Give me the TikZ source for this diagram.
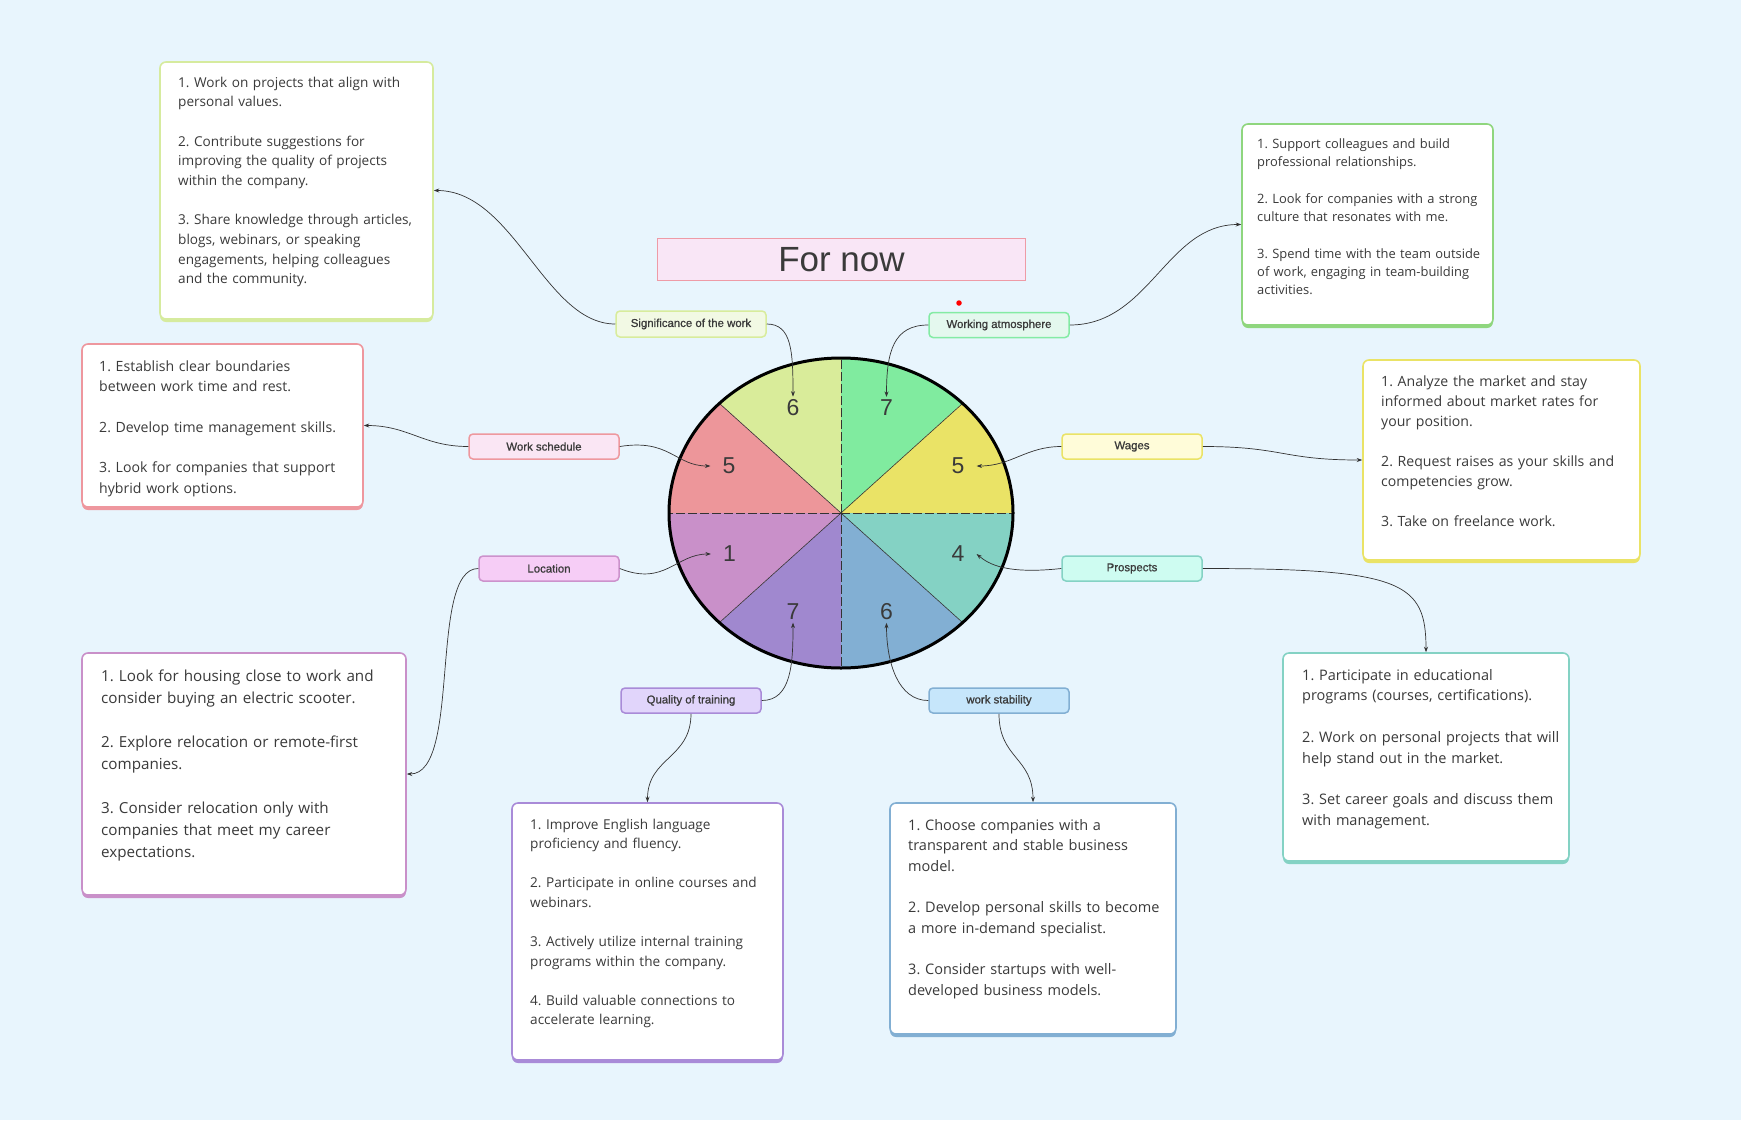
\documentclass[tikz,border=0pt]{standalone}
\usepackage{fontspec}
\usetikzlibrary{arrows.meta}
\newfontfamily\osans{Open Sans}
\newfontfamily\lsans{Liberation Sans}
\newfontfamily\lsansm[FakeBold=0.9]{Liberation Sans}
\definecolor{bg}{HTML}{E8F5FD}
\definecolor{txtc}{HTML}{3A3A3A}
\definecolor{linec}{HTML}{333333}
\definecolor{sla}{HTML}{D9EC9A}
\definecolor{slb}{HTML}{80EB9F}
\definecolor{slc}{HTML}{EAE366}
\definecolor{sld}{HTML}{84D2C4}
\definecolor{sle}{HTML}{82AFD3}
\definecolor{slf}{HTML}{A088CF}
\definecolor{slg}{HTML}{C990C9}
\definecolor{slh}{HTML}{ED969A}
\definecolor{cA}{HTML}{D6EB9E}
\definecolor{cB}{HTML}{8FD67E}
\definecolor{cC}{HTML}{EE979E}
\definecolor{cD}{HTML}{EAE366}
\definecolor{cE}{HTML}{C990C9}
\definecolor{cF}{HTML}{84D2C4}
\definecolor{cG}{HTML}{A98BD8}
\definecolor{cH}{HTML}{82AFD3}
\definecolor{lfA}{HTML}{F2F9E4}\definecolor{lbA}{HTML}{D8EC9C}
\definecolor{lfB}{HTML}{E4F8EE}\definecolor{lbB}{HTML}{84EBA4}
\definecolor{lfC}{HTML}{FAE6F4}\definecolor{lbC}{HTML}{EE989E}
\definecolor{lfD}{HTML}{F6CDF6}\definecolor{lbD}{HTML}{CC92CC}
\definecolor{lfE}{HTML}{FFFCD9}\definecolor{lbE}{HTML}{EAE366}
\definecolor{lfF}{HTML}{CEFCF1}\definecolor{lbF}{HTML}{84D2C4}
\definecolor{lfG}{HTML}{E1D5FB}\definecolor{lbG}{HTML}{A98BD8}
\definecolor{lfH}{HTML}{C6E6FB}\definecolor{lbH}{HTML}{82AFD3}
\definecolor{titleF}{HTML}{F9E6F6}
\definecolor{titleB}{HTML}{EE9BA6}
\newcommand\pgap{\\[\baselineskip]}
\frenchspacing
\begin{document}
\begin{tikzpicture}[x=1pt,y=-1pt,
  conn/.style={draw=linec, line width=0.7pt, -{Stealth[length=5.5pt,width=4pt]}},
  lab/.style={draw=#1, rounded corners=4pt, line width=1.5pt, minimum width=140pt, minimum height=25pt, inner sep=0pt, font=\lsansm\fontsize{11.4}{13}\selectfont, text=txtc},
  card/.style={draw=#1, fill=white, line width=1.6pt, rounded corners=6pt, inner sep=0pt, preaction={fill=#1, transform canvas={yshift=-3pt}}},
  body/.style={anchor=base west, inner sep=0pt, align=left, text=txtc},
  num/.style={font=\lsans\fontsize{23}{23}\selectfont, text=txtc, inner xsep=12pt, inner ysep=3pt},
  radial/.style={draw=linec, line width=0.6pt},
  diam/.style={draw=linec, line width=0.8pt, dash pattern=on 9pt off 3pt},
]
\fill[bg] (0,0) rectangle (1741,1120);
\useasboundingbox (0,0) rectangle (1741,1120);

% title
\node[draw=titleB, fill=titleF, line width=1.8pt, minimum width=368pt, minimum height=42pt, inner sep=0pt, font=\lsans\fontsize{35}{40}\selectfont, text=txtc] (title) at (841.5,259.5) {For now};
\node[circle, fill=red, inner sep=0pt, minimum size=5.5pt] (dot) at (959,303) {};

% pie
\coordinate (pc) at (841,513);
\begin{scope}
\clip (841,513) ellipse [x radius=172, y radius=155];
\foreach \a/\b/\c in {-135/-90/sla, -90/-45/slb, -45/0/slc, 0/45/sld, 45/90/sle, 90/135/slf, 135/180/slg, 180/225/slh}
  \fill[\c] (841,513) -- +(\a:260 and 235) -- +(\b:260 and 235) -- cycle;
\end{scope}
\foreach \a in {45,135,225,315}
  \draw[radial] (pc) -- +(\a:172 and 155);
\foreach \a in {0,90,180,270}
  \draw[diam] (pc) -- +(\a:172 and 155);
\draw[line width=3pt] (pc) ellipse [x radius=172, y radius=155];

\node[num] (n6t) at (793,408) {6};
\node[num] (n7t) at (886.5,408) {7};
\node[num] (n5r) at (958,466) {5};
\node[num] (n4) at (958,554) {4};
\node[num] (n6b) at (886.5,611.5) {6};
\node[num] (n7b) at (793,611.5) {7};
\node[num] (n1) at (729.5,554) {1};
\node[num] (n5l) at (729,466) {5};

% labels
\node[lab=lbA, fill=lfA, minimum width=150pt, minimum height=26pt] (sig) at (691,324) {Significance of the work};
\node[lab=lbB, fill=lfB] (wat) at (999,325) {Working atmosphere};
\node[lab=lbC, fill=lfC, minimum width=150pt] (ws) at (544,446.5) {Work schedule};
\node[lab=lbD, fill=lfD] (loc) at (549,568.5) {Location};
\node[lab=lbE, fill=lfE] (wag) at (1132,446.5) {Wages};
\node[lab=lbF, fill=lfF] (pro) at (1132,568.5) {Prospects};
\node[lab=lbG, fill=lfG] (qt) at (691,700.5) {Quality of training};
\node[lab=lbH, fill=lfH] (wst) at (999,700.5) {work stability};

% cards
\node[card=cA, minimum width=273pt, minimum height=257pt] (box1) at (296.5,190.5) {};
\node[card=cB, minimum width=251pt, minimum height=201pt] (box2) at (1367.5,224.5) {};
\node[card=cC, minimum width=281pt, minimum height=163pt] (box3) at (222.5,425.5) {};
\node[card=cD, minimum width=277pt, minimum height=200pt] (box4) at (1501.5,460) {};
\node[card=cE, minimum width=324pt, minimum height=242pt] (box5) at (244,774) {};
\node[card=cF, minimum width=286pt, minimum height=208pt] (box6) at (1426,757) {};
\node[card=cG, minimum width=271pt, minimum height=257pt] (box7) at (647.5,931.5) {};
\node[card=cH, minimum width=286pt, minimum height=231pt] (box8) at (1033,918.5) {};

\node[body, font=\osans\fontsize{13.6}{19.65}\selectfont, text width=252pt] (t1) at (178,87.3) {1. Work on projects that align with\\personal values.\pgap 2. Contribute suggestions for\\improving the quality of projects\\within the company.\pgap 3. Share knowledge through articles,\\blogs, webinars, or speaking\\engagements, helping colleagues\\and the community.};
\node[body, font=\osans\fontsize{12.9}{18.3}\selectfont, text width=232pt] (t2) at (1257,148.3) {1. Support colleagues and build\\professional relationships.\pgap 2. Look for companies with a strong\\culture that resonates with me.\pgap 3. Spend time with the team outside\\of work, engaging in team-building\\activities.};
\node[body, font=\osans\fontsize{14.1}{20.35}\selectfont, text width=262pt] (t3) at (99,371) {1. Establish clear boundaries\\between work time and rest.\pgap 2. Develop time management skills.\pgap 3. Look for companies that support\\hybrid work options.};
\node[body, font=\osans\fontsize{14.1}{20}\selectfont, text width=256pt] (t4) at (1381,386) {1. Analyze the market and stay\\informed about market rates for\\your position.\pgap 2. Request raises as your skills and\\competencies grow.\pgap 3. Take on freelance work.};
\node[body, font=\osans\fontsize{15.2}{22}\selectfont, text width=302pt] (t5) at (101,681.7) {1. Look for housing close to work and\\consider buying an electric scooter.\pgap 2. Explore relocation or remote-first\\companies.\pgap 3. Consider relocation only with\\companies that meet my career\\expectations.};
\node[body, font=\osans\fontsize{14.5}{20.8}\selectfont, text width=266pt] (t6) at (1302,680) {1. Participate in educational\\programs (courses, certifications).\pgap 2. Work on personal projects that will\\help stand out in the market.\pgap 3. Set career goals and discuss them\\with management.};
\node[body, font=\osans\fontsize{13.6}{19.55}\selectfont, text width=252pt] (t7) at (530,829.3) {1. Improve English language\\proficiency and fluency.\pgap 2. Participate in online courses and\\webinars.\pgap 3. Actively utilize internal training\\programs within the company.\pgap 4. Build valuable connections to\\accelerate learning.};
\node[body, font=\osans\fontsize{14.5}{20.7}\selectfont, text width=266pt] (t8) at (908,830) {1. Choose companies with a\\transparent and stable business\\model.\pgap 2. Develop personal skills to become\\a more in-demand specialist.\pgap 3. Consider startups with well-\\developed business models.};

% connectors
\draw[conn] (sig.west) .. controls +(-70,0) and +(80,0) .. (box1.east);
\draw[conn] (sig.east) .. controls +(25,0) and +(0,-45) .. (n6t.north);
\draw[conn] (wat.west) .. controls +(-35,0) and +(0,-45) .. (n7t.north);
\draw[conn] (wat.east) .. controls +(80,0) and +(-75,0) .. (box2.west);
\draw[conn] (ws.west) .. controls +(-45,0) and +(45,0) .. (box3.east);
\draw[conn] (ws.east) .. controls +(50,-8) and +(-35,0) .. (n5l.west);
\draw[conn] (loc.east) .. controls +(45,18) and +(-35,0) .. (n1.west);
\draw[conn] (loc.west) .. controls +(-50,0) and +(55,0) .. (box5.east);
\draw[conn] (wag.west) .. controls +(-35,0) and +(35,0) .. (n5r.east);
\draw[conn] (wag.east) .. controls +(80,0) and +(-80,0) .. (box4.west);
\draw[conn] (pro.west) .. controls +(-55,6) and +(12,10) .. (n4.east);
\draw[conn] (pro.east) .. controls +(200,0) and +(0,-70) .. (box6.north);
\draw[conn] (qt.east) .. controls +(30,0) and +(0,40) .. (n7b.south);
\draw[conn] (qt.south) .. controls +(0,45) and +(0,-45) .. (box7.north);
\draw[conn] (wst.west) .. controls +(-30,0) and +(0,40) .. (n6b.south);
\draw[conn] (wst.south) .. controls +(0,45) and +(0,-45) .. (box8.north);
\end{tikzpicture}
\end{document}
